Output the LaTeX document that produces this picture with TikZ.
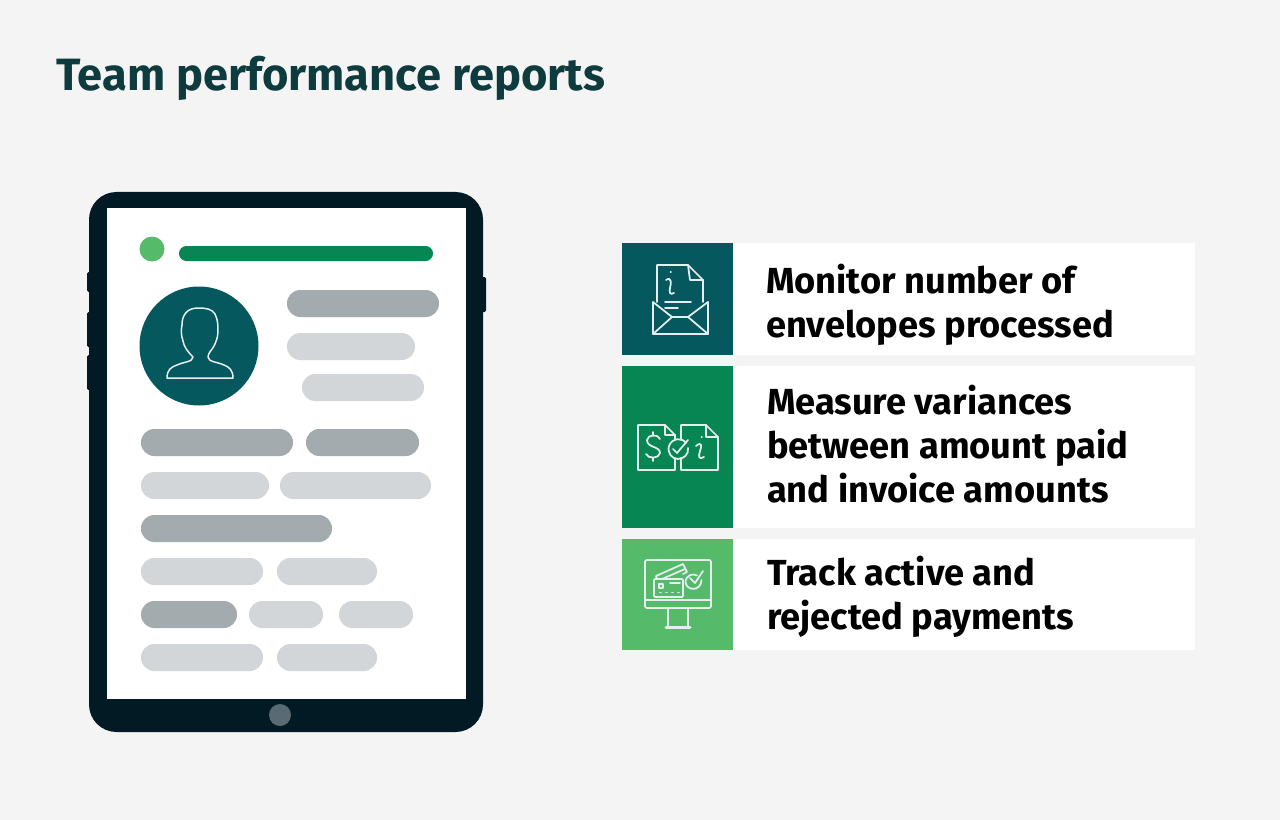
\documentclass[tikz,border=0pt]{standalone}
\usepackage{fontspec}
\setmainfont{Fira Sans}
\definecolor{cF4F4F4}{RGB}{244,244,244}
\definecolor{c0D3B3E}{RGB}{13,59,62}
\definecolor{c011A23}{RGB}{1,26,35}
\definecolor{c5A6A72}{RGB}{90,106,114}
\definecolor{c55BB6A}{RGB}{85,187,106}
\definecolor{c078552}{RGB}{7,133,82}
\definecolor{c04585E}{RGB}{4,88,94}
\definecolor{cA3ABAF}{RGB}{163,171,175}
\definecolor{cD2D6D8}{RGB}{210,214,216}
\definecolor{cE6EFEF}{RGB}{230,239,239}
\tikzset{
  pilldark/.style={fill=cA3ABAF,rounded corners=10.6pt},
  pilllight/.style={fill=cD2D6D8,rounded corners=10.6pt},
  iconline/.style={draw=cE6EFEF,line width=1.4pt,line join=round,line cap=round},
  cardtext/.style={anchor=west,align=left,text=black,font=\fontsize{29}{35.2}\selectfont\bfseries},
}

\begin{document}
\begin{tikzpicture}[y=0.80pt,x=0.80pt,yscale=-1, inner sep=0pt, outer sep=0pt]
    % page
    \path[fill=cF4F4F4] (0,0) rectangle (1280,820);
    \node[anchor=base west,text=c0D3B3E,font=\fontsize{36.2}{42}\selectfont\bfseries] (title) at (56,91) {Team performance reports};
    % tablet
    \path[fill=c011A23,rounded corners=1.2pt] (87,272) rectangle (92,292);
    \path[fill=c011A23,rounded corners=1.2pt] (87,312) rectangle (92,347);
    \path[fill=c011A23,rounded corners=1.2pt] (87,355) rectangle (92,390);
    \path[fill=c011A23,rounded corners=1.2pt] (480,277) rectangle (486,312);
    \path[fill=c011A23,rounded corners=22pt] (89,192) rectangle (483,732);
    \path[fill=white] (107,208) rectangle (466,699);
    \path[fill=c5A6A72] (280,715) circle (8.8pt);
    \path[fill=c55BB6A] (152,249) circle (10pt);
    \path[fill=c078552,rounded corners=5.9pt] (179,246) rectangle (433,261);
    \path[fill=c04585E] (199,346) circle (47.6pt);
    \path[draw=cE6EFEF,line width=1.2pt,line join=round] (167,378) .. controls (167,370) and (171,367) .. (177,365)
      .. controls (183,362) and (193,362) .. (193,357) .. controls (188,352) and (184,347) .. (183,341)
      .. controls (181,335) and (181,330) .. (182,325) .. controls (182,314) and (188,308) .. (198,308)
      .. controls (206,308) and (212,309) .. (215,314) .. controls (218,320) and (218,326) .. (218,331)
      .. controls (218,337) and (216,342) .. (214,346) .. controls (212,350) and (208,353) .. (208,357)
      .. controls (208,362) and (218,362) .. (224,365) .. controls (229,367) and (233,370) .. (233,378) -- cycle;
    % pills
    \path[pilldark] (287,290) rectangle (439,317);
    \path[pilllight] (287,333) rectangle (415,360);
    \path[pilllight] (302,374) rectangle (424,401);
    \path[pilldark] (141,429) rectangle (293,456);
    \path[pilldark] (306,429) rectangle (419,456);
    \path[pilllight] (141,472) rectangle (269,499);
    \path[pilllight] (280,472) rectangle (431,499);
    \path[pilldark] (141,515) rectangle (332,542);
    \path[pilllight] (141,558) rectangle (263,585);
    \path[pilllight] (277,558) rectangle (377,585);
    \path[pilldark] (141,601) rectangle (237,628);
    \path[pilllight] (249,601) rectangle (323,628);
    \path[pilllight] (339,601) rectangle (413,628);
    \path[pilllight] (141,644) rectangle (263,671);
    \path[pilllight] (277,644) rectangle (377,671);
    % cards
    \path[fill=white] (733,243) rectangle (1195,355);
    \path[fill=c04585E] (622,243) rectangle (733,355);
    \path[fill=white] (733,366) rectangle (1195,528);
    \path[fill=c078552] (622,366) rectangle (733,528);
    \path[fill=white] (733,539) rectangle (1195,650);
    \path[fill=c55BB6A] (622,539) rectangle (733,650);
    \node[cardtext] (monitor) at (766,304.5) {Monitor number of\\envelopes processed};
    \node[cardtext] (measure) at (767,444) {Measure variances\\between amount paid\\and invoice amounts};
    \node[cardtext] (track) at (767,597) {Track active and\\rejected payments};
    % envelope icon
    \path[iconline] (657,302) -- (657,265) -- (688,265) -- (703,280) -- (703,302);
    \path[iconline] (688,265) -- (690,280) -- (703,280);
    \path[iconline] (653,302) -- (653,334) -- (708,334) -- (708,302);
    \path[iconline] (653,302) -- (672,317) -- (688,317) -- (708,302);
    \path[iconline] (653,334) -- (672,317);
    \path[iconline] (708,334) -- (688,317);
    \path[iconline] (665,302) -- (691,302);
    \path[iconline] (665,308) -- (678,308);
    \path[iconline] (666,280) .. controls (672,276) and (671,284) .. (670,288) .. controls (669,293) and (670,295) .. (674,293);
    \path[iconline] (670.5,272) -- (671,272);
    % invoice icon
    \path[iconline] (675,440) -- (675,435) -- (665,425) -- (638,425) -- (638,470) -- (675,470) -- (675,458);
    \path[iconline] (665,425) -- (665,435) -- (675,435);
    \path[iconline] (681,440) -- (681,425) -- (706,425) -- (718,437) -- (718,470) -- (681,470) -- (681,458);
    \path[iconline] (706,425) -- (706,437) -- (718,437);
    \path[iconline] (686,443) .. controls (682,437) and (672,438) .. (669,446) .. controls (667,453) and (672,459) .. (678,459) .. controls (684,459) and (689,454) .. (688,448);
    \path[iconline] (673,449) -- (677,453) -- (688,440);
    \path[iconline] (660,439) .. controls (658,434) and (648,434) .. (647,440) .. controls (647,448) and (660,446) .. (660,453)
      .. controls (659,459) and (648,459) .. (646,454);
    \path[iconline] (653,432) -- (653,436);
    \path[iconline] (653,458) -- (653,461);
    \path[iconline] (696,446) .. controls (702,441) and (702,446) .. (700,451) .. controls (698,457) and (699,460) .. (704,457);
    \path[iconline] (701.5,437) -- (702,437);
    % monitor icon
    \path[iconline,rounded corners=1.2pt] (645,560) rectangle (711,608);
    \path[iconline] (645,600) -- (711,600);
    \path[iconline] (668,608) -- (668,626);
    \path[iconline] (688,608) -- (688,626);
    \path[iconline,line width=2.4pt] (666,627) -- (690,627);
    \path[iconline,rounded corners=0.8pt] (654,579) rectangle (683,597);
    \path[iconline] (657,579) -- (656,576) -- (683,564) -- (687,572) -- (683,574);
    \path[iconline] (662,579) -- (685,569);
    \path[iconline] (659,584) rectangle (663,588);
    \path[iconline] (670,583) -- (680,583);
    \path[iconline] (660,592.5) -- (661,592.5);
    \path[iconline] (666,592.5) -- (667,592.5);
    \path[iconline] (672,592.5) -- (673,592.5);
    \path[iconline] (678,592.5) -- (679,592.5);
    \path[iconline] (701.5,580) .. controls (701,592) and (686,591) .. (685.5,582) .. controls (686,575) and (693,573) .. (697,575.5);
    \path[iconline] (690,578) -- (695,583) -- (703,571);
\end{tikzpicture}
\end{document}
